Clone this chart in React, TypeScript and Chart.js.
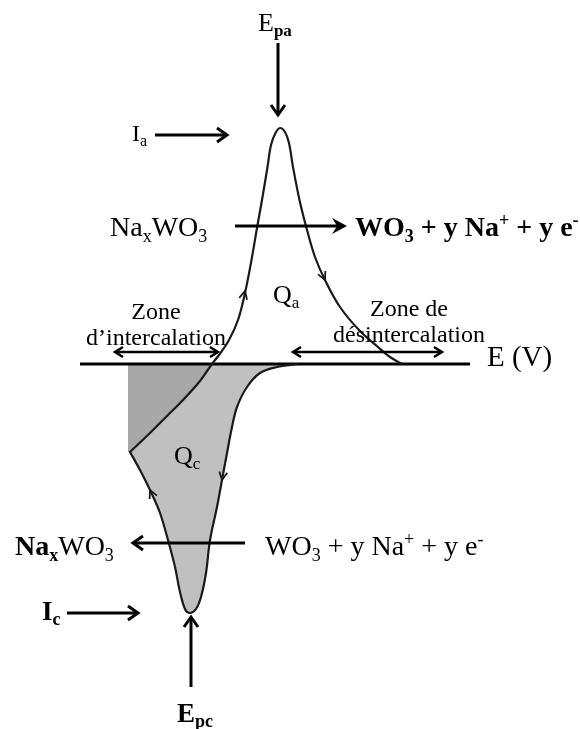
import React, { useEffect, useRef } from 'react';
import { Chart, registerables } from 'chart.js';

Chart.register(...registerables);

// ---- Data (E: potential, I: current, arbitrary units; axis at I = 0) ----
// cathodic sweep: from the axis tail down to the cathodic peak (Ic, Epc)
const cathodicE = [21.8, 19.7, 18.0, 16.7, 15.7, 15.2, 14.7, 14.2, 13.7, 13.0, 12.6, 12.1, 11.6, 11.0];
const cathodicI = [0, -0.3, -0.9, -2.3, -4.3, -6.3, -8.9, -11.6, -14.3, -17.6, -20.9, -23.3, -24.5, -24.9];
// return from the cathodic peak up to the vertex
const returnE = [10.5, 10.0, 9.5, 8.8, 8.0, 7.0, 6.0, 5.0];
const returnI = [-24.5, -22.8, -20.3, -17.6, -14.9, -12.6, -10.6, -8.8];
// nearly straight rise from the vertex up to the E axis
const risingE = [5.0, 7.0, 8.7, 10.3, 12.0, 13.2];
const risingI = [-8.8, -6.9, -5.2, -3.6, -1.7, 0];
// anodic peak (Ia, Epa) and decay back to the axis
const anodicE = [13.9, 14.9, 15.8, 16.5, 17.15, 17.7, 18.2, 18.75, 19.1, 19.55, 20.0, 20.5, 20.9, 21.3, 21.95, 22.65, 23.5, 24.5, 26.0, 27.9, 29.8, 31.0, 32.2];
const anodicI = [0.9, 2.4, 4.4, 7.1, 10.4, 13.6, 16.4, 19.7, 21.9, 23.1, 23.6, 23.2, 22.1, 19.7, 16.4, 13.6, 10.7, 8.4, 5.7, 3.4, 1.7, 0.7, 0];
// left edge of the dark (intercalation) area
const darkEdgeE = [4.8, 4.8];
const darkEdgeI = [0, -8.8];
// E axis extent
const axisE = [0, 39];
const axisI = [0, 0];

// direction arrows along the curve: tip and tail points
const flowTipE = [16.5, 24.5, 14.2, 7.0];
const flowTipI = [7.3, 8.4, -11.6, -12.6];
const flowTailE = [15.9, 23.6, 14.6, 7.9];
const flowTailI = [4.8, 10.4, -9.2, -14.6];

// annotation arrows [fromE, fromI, toE, toI]
const arrowFromE = [19.8, 7.5, 15.5, 16.5, -1.3, 11.1];
const arrowFromI = [32.1, 22.9, 13.8, -17.9, -24.9, -32.3];
const arrowToE = [19.8, 14.7, 26.7, 5.3, 5.8, 11.1];
const arrowToI = [24.9, 22.9, 13.8, -17.9, -24.9, -25.3];
const arrowFilled = [false, false, true, false, false, false];
// double arrows of the two zones
const zoneFromE = [3.5, 21.3];
const zoneToE = [13.8, 36.2];
const zoneI = [1.2, 1.2];

type Part = { t: string; b?: boolean; s?: 'sub' | 'sup' };
// label texts
const labelParts: Part[][] = [
  [{ t: 'E' }, { t: 'pa', b: true, s: 'sub' }],
  [{ t: 'I' }, { t: 'a', s: 'sub' }],
  [{ t: 'Na' }, { t: 'x', s: 'sub' }, { t: 'WO' }, { t: '3', s: 'sub' }],
  [{ t: 'WO', b: true }, { t: '3', b: true, s: 'sub' }, { t: ' + y Na', b: true }, { t: '+', b: true, s: 'sup' }, { t: ' + y e', b: true }, { t: '-', b: true, s: 'sup' }],
  [{ t: 'Q' }, { t: 'a', s: 'sub' }],
  [{ t: 'Zone' }],
  [{ t: 'd’intercalation' }],
  [{ t: 'Zone de' }],
  [{ t: 'désintercalation' }],
  [{ t: 'E (V)' }],
  [{ t: 'Q' }, { t: 'c', s: 'sub' }],
  [{ t: 'Na', b: true }, { t: 'x', b: true, s: 'sub' }, { t: 'WO' }, { t: '3', s: 'sub' }],
  [{ t: 'WO' }, { t: '3', s: 'sub' }, { t: ' + y Na' }, { t: '+', s: 'sup' }, { t: ' + y e' }, { t: '-', s: 'sup' }],
  [{ t: 'I', b: true }, { t: 'c', b: true, s: 'sub' }],
  [{ t: 'E', b: true }, { t: 'pc', b: true, s: 'sub' }],
];
// label anchor (E, I of baseline) and layout
const labelE = [17.8, 5.2, 3.0, 27.5, 19.3, 7.6, 7.6, 32.9, 32.9, 40.7, 9.4, -6.5, 18.5, -3.8, 9.7];
const labelI = [33.3, 22.3, 12.8, 12.8, 6.1, 4.5, 1.9, 4.8, 2.2, -0.2, -10.0, -19.1, -19.1, -25.6, -35.8];
const labelSize = [26, 24, 28, 28, 26, 24, 24, 24, 24, 29, 26, 28, 28, 27, 27];
const labelAlign = ['left', 'left', 'left', 'left', 'left', 'center', 'center', 'center', 'center', 'left', 'left', 'left', 'left', 'left', 'left'];

const FONT = '"Liberation Serif", "Times New Roman", Times, serif';

const pts = (es: number[], is: number[]) => es.map((e, k) => ({ x: e, y: is[k] }));

function drawRich(ctx: CanvasRenderingContext2D, parts: Part[], x: number, y: number, size: number, align: string) {
  const font = (p: Part) => `${p.b ? 'bold ' : ''}${p.s ? Math.round(size * 0.65) : size}px ${FONT}`;
  let w = 0;
  for (const p of parts) {
    ctx.font = font(p);
    w += ctx.measureText(p.t).width;
  }
  let cx = align === 'center' ? x - w / 2 : x;
  for (const p of parts) {
    ctx.font = font(p);
    const dy = p.s === 'sub' ? size * 0.2 : p.s === 'sup' ? -size * 0.36 : 0;
    ctx.fillText(p.t, cx, y + dy);
    cx += ctx.measureText(p.t).width;
  }
}

function head(ctx: CanvasRenderingContext2D, tx: number, ty: number, fx: number, fy: number, len: number, half: number, filled: boolean) {
  const a = Math.atan2(ty - fy, tx - fx);
  const c = Math.cos(a), s = Math.sin(a);
  const bx = tx - len * c, by = ty - len * s;
  const w1x = bx - half * s, w1y = by + half * c;
  const w2x = bx + half * s, w2y = by - half * c;
  ctx.beginPath();
  if (filled) {
    const nx = tx - len * 0.65 * c, ny = ty - len * 0.65 * s;
    ctx.moveTo(tx, ty);
    ctx.lineTo(w1x, w1y);
    ctx.lineTo(nx, ny);
    ctx.lineTo(w2x, w2y);
    ctx.closePath();
    ctx.fill();
  } else {
    ctx.moveTo(w1x, w1y);
    ctx.lineTo(tx, ty);
    ctx.lineTo(w2x, w2y);
    ctx.stroke();
  }
}

const overlay = {
  id: 'overlay',
  afterDatasetsDraw(chart: any) {
    const { ctx } = chart;
    const sx = chart.scales.x, sy = chart.scales.y;
    const X = (e: number) => sx.getPixelForValue(e);
    const Y = (i: number) => sy.getPixelForValue(i);
    ctx.save();
    ctx.strokeStyle = '#000';
    ctx.fillStyle = '#000';
    ctx.lineCap = 'butt';
    ctx.lineJoin = 'miter';

    // flow arrows on the curve
    ctx.lineWidth = 1.8;
    ctx.strokeStyle = '#1a1a1a';
    for (let k = 0; k < flowTipE.length; k++) {
      head(ctx, X(flowTipE[k]), Y(flowTipI[k]), X(flowTailE[k]), Y(flowTailI[k]), 8, 4, false);
    }

    // annotation arrows
    ctx.strokeStyle = '#000';
    ctx.lineWidth = 3;
    for (let k = 0; k < arrowFromE.length; k++) {
      const fx = X(arrowFromE[k]), fy = Y(arrowFromI[k]);
      const tx = X(arrowToE[k]), ty = Y(arrowToI[k]);
      const a = Math.atan2(ty - fy, tx - fx);
      const back = arrowFilled[k] ? 6 : 1.5;
      ctx.beginPath();
      ctx.moveTo(fx, fy);
      ctx.lineTo(tx - back * Math.cos(a), ty - back * Math.sin(a));
      ctx.stroke();
      if (arrowFilled[k]) head(ctx, tx, ty, fx, fy, 15, 8, true);
      else head(ctx, tx, ty, fx, fy, 10, 7, false);
    }

    // zone double arrows
    ctx.lineWidth = 2.5;
    for (let k = 0; k < zoneFromE.length; k++) {
      const ax = X(zoneFromE[k]), bx = X(zoneToE[k]), yy = Y(zoneI[k]);
      ctx.beginPath();
      ctx.moveTo(ax + 1, yy);
      ctx.lineTo(bx - 1, yy);
      ctx.stroke();
      head(ctx, ax, yy, bx, yy, 8, 5, false);
      head(ctx, bx, yy, ax, yy, 8, 5, false);
    }

    // labels
    ctx.textBaseline = 'alphabetic';
    ctx.fillStyle = '#000';
    for (let k = 0; k < labelParts.length; k++) {
      drawRich(ctx, labelParts[k], X(labelE[k]), Y(labelI[k]), labelSize[k], labelAlign[k]);
    }
    ctx.restore();
  },
};

export default function App() {
  const ref = useRef<HTMLCanvasElement | null>(null);
  useEffect(() => {
    document.body.style.margin = '0';
    const canvas = ref.current;
    if (!canvas) return;

    const cathodic = pts(cathodicE, cathodicI);
    const ret = pts(returnE, returnI);
    const rising = pts(risingE, risingI);
    const anodic = pts(anodicE, anodicI);
    const crossing = rising[rising.length - 1];
    const tail = cathodic[0];

    const curve = [...cathodic, ...ret, ...rising, ...anodic];
    const light = [...rising, crossing, tail, ...cathodic, ...ret];
    const dark = [...pts(darkEdgeE, darkEdgeI), ...rising];

    const chart = new Chart(canvas, {
      type: 'line',
      data: {
        datasets: [
          { data: curve, borderColor: '#1a1a1a', borderWidth: 2.2, tension: 0.35, pointRadius: 0, fill: false },
          { data: pts(axisE, axisI), borderColor: '#000', borderWidth: 3.2, tension: 0, pointRadius: 0, fill: false },
          { data: light, borderWidth: 0, borderColor: 'rgba(0,0,0,0)', backgroundColor: '#c0c0c0', tension: 0.35, pointRadius: 0, fill: 'shape' },
          { data: dark, borderWidth: 0, borderColor: 'rgba(0,0,0,0)', backgroundColor: '#a8a8a8', tension: 0, pointRadius: 0, fill: 'shape' },
        ] as any,
      },
      options: {
        animation: false,
        responsive: false,
        events: [],
        layout: { padding: 0 },
        plugins: { legend: { display: false }, tooltip: { enabled: false } },
        scales: {
          x: { type: 'linear', min: -8, max: 50, display: false },
          y: { type: 'linear', min: -36.5, max: 36.4, display: false },
        },
      } as any,
      plugins: [overlay],
    });
    return () => chart.destroy();
  }, []);

  return (
    <div style={{ position: 'fixed', left: 0, top: 0, width: 580, height: 729, background: '#fff' }}>
      <canvas ref={ref} width={580} height={729} style={{ display: 'block', width: 580, height: 729 }} />
    </div>
  );
}
